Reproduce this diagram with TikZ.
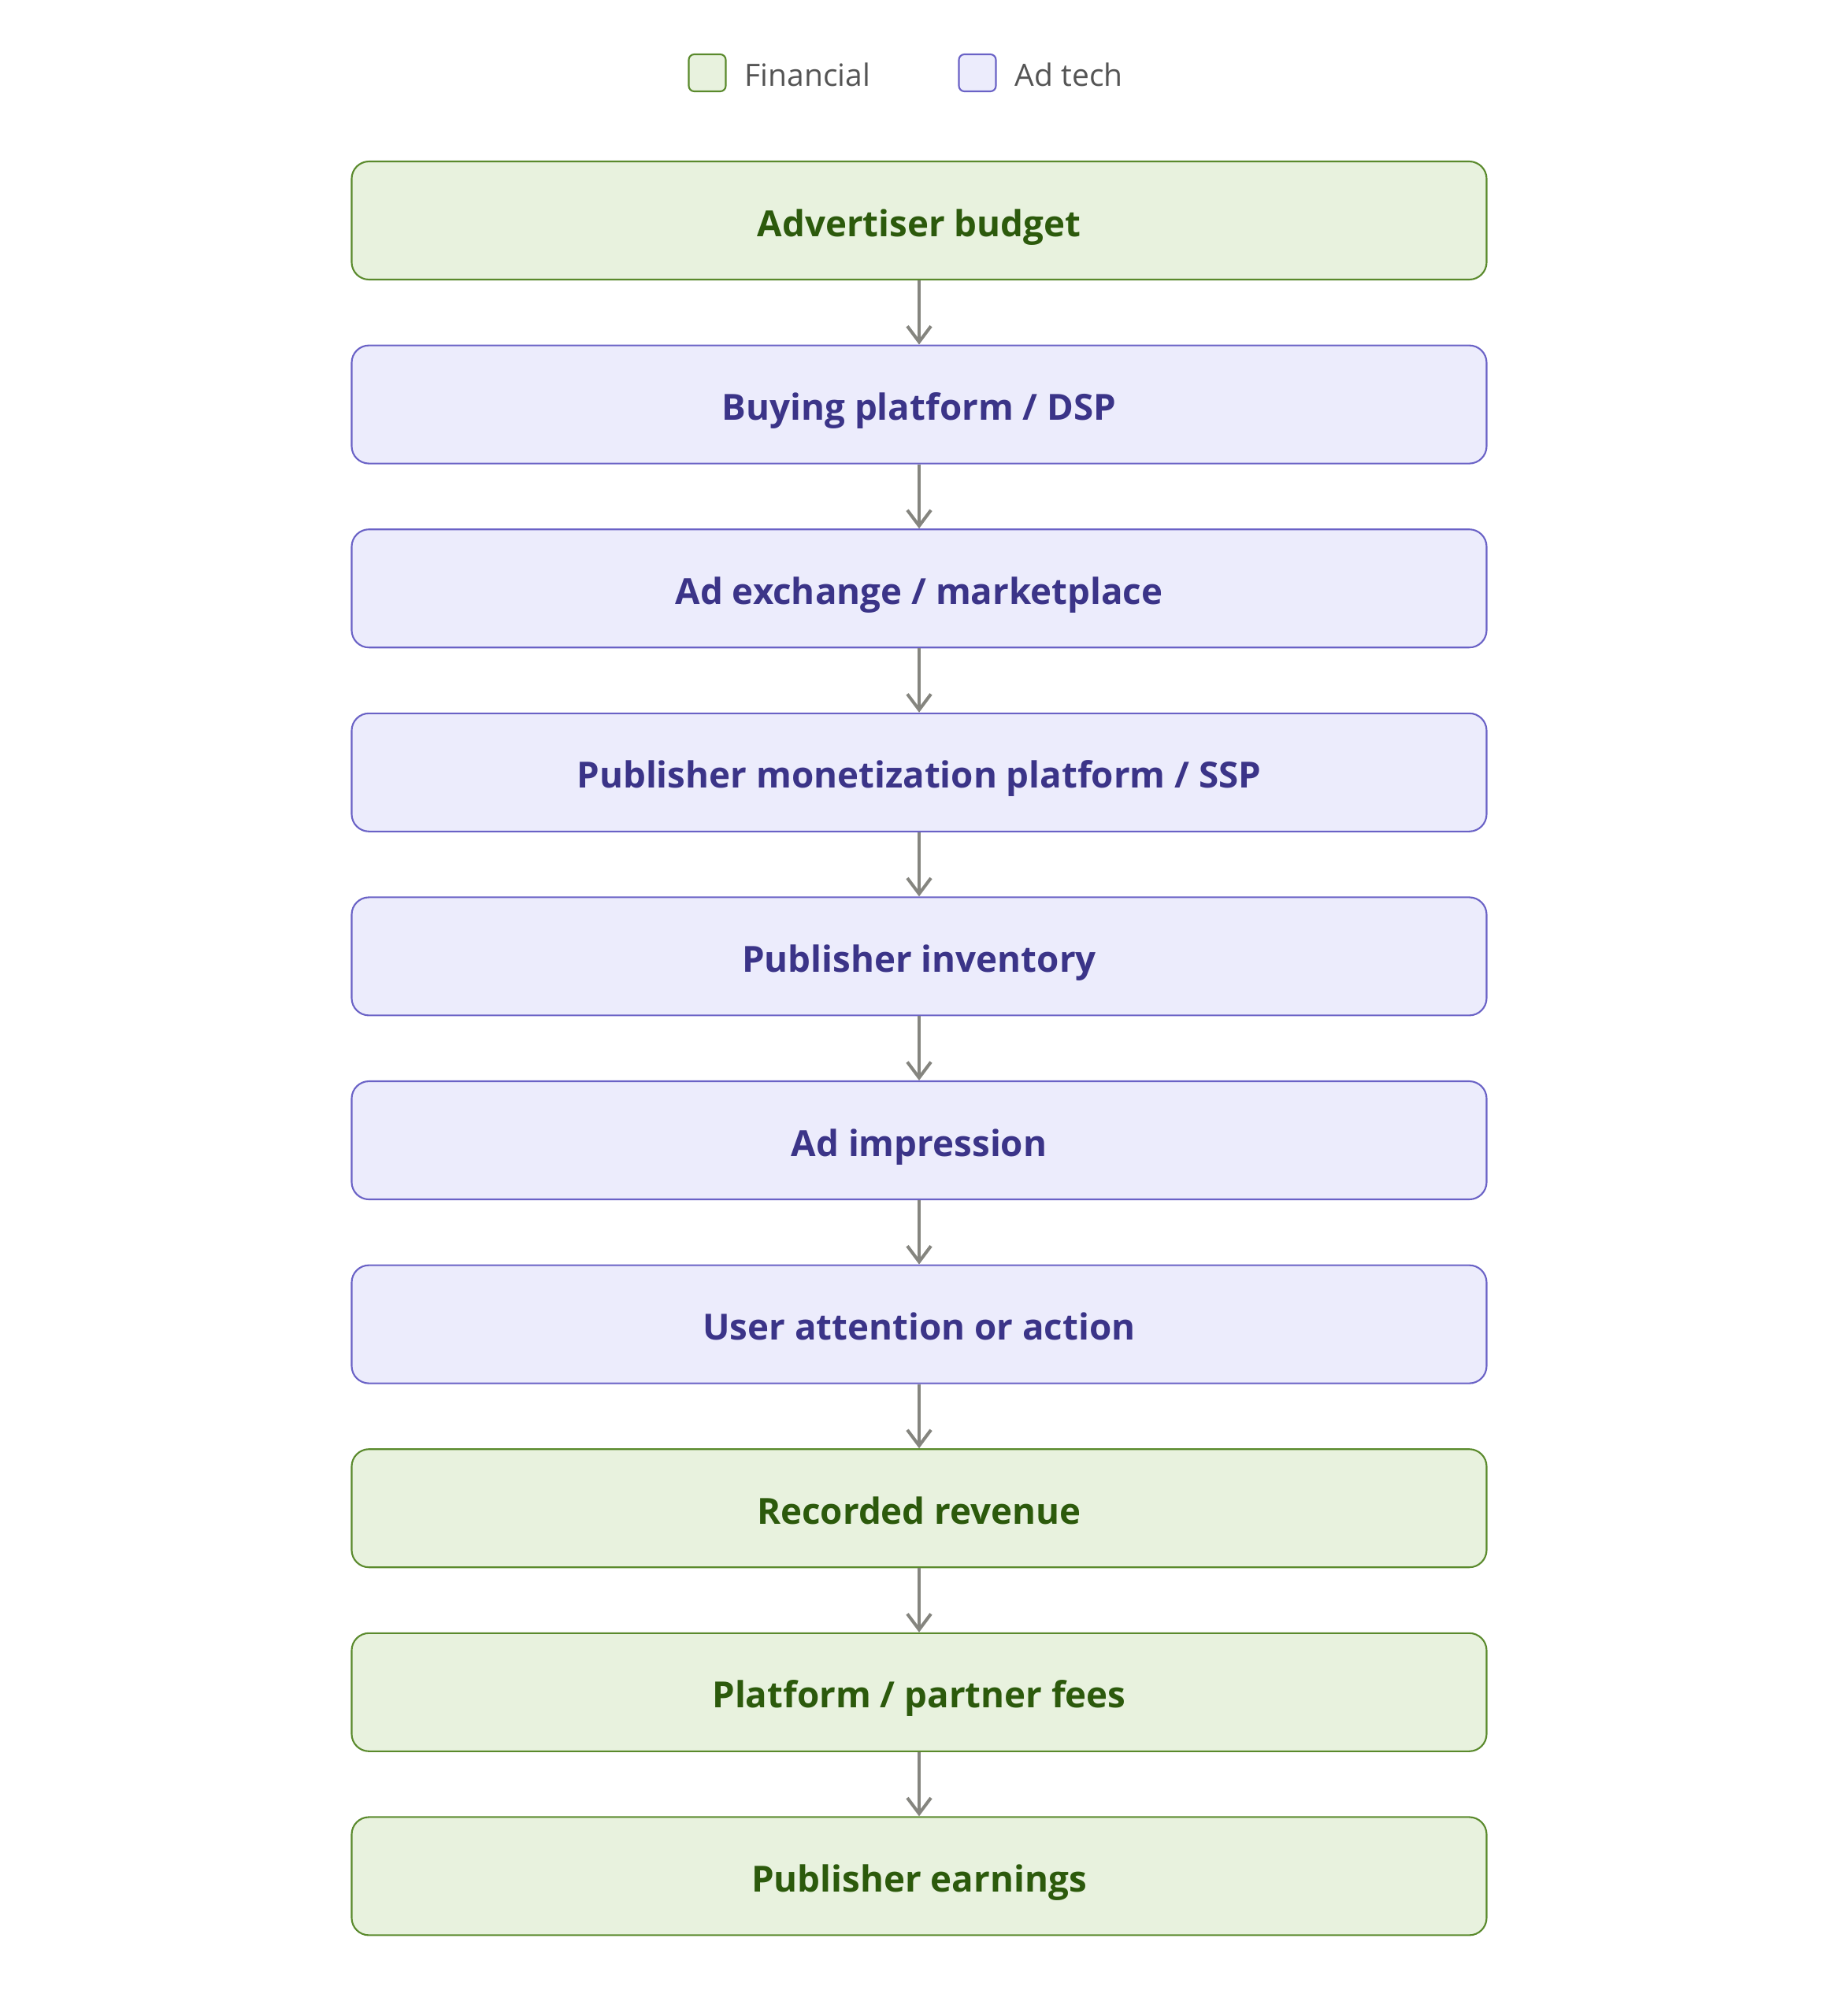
\documentclass[tikz,border=0pt]{standalone}
\usepackage{fontspec}
\setmainfont{Open Sans}
\usepackage{tikz}
\usetikzlibrary{arrows.meta}

\definecolor{finfill}{HTML}{E8F2DE}
\definecolor{finline}{HTML}{5A8A2C}
\definecolor{fintext}{HTML}{2C5A0C}
\definecolor{techfill}{HTML}{ECECFC}
\definecolor{techline}{HTML}{6A62C6}
\definecolor{techtext}{HTML}{3B3488}
\definecolor{arrowgray}{HTML}{85857F}

\begin{document}
\begin{tikzpicture}[node distance=2.336cm,
        fin/.style = {draw=finline, fill=finfill, text=fintext, line width=0.6pt, rounded corners=0.22cm,
                minimum width=14.41cm, minimum height=1.5cm, text height=0.5cm, text depth=0.1cm,
                font=\fontsize{13}{15}\selectfont\bfseries},
        tech/.style = {fin, draw=techline, fill=techfill, text=techtext},
        key/.style = {draw, line width=0.6pt, rounded corners=0.07cm, minimum size=0.47cm, inner sep=0pt},
        keytext/.style = {anchor=base west, inner sep=0pt, text=black!67, font=\fontsize{11.1}{13}\selectfont},
        flow/.style = {draw=arrowgray, line width=1.15pt, -{Straight Barb[length=0.2cm,width=0.3cm,line width=1.15pt]}}]
                \useasboundingbox (0,0) rectangle (23.21,-25.6);
                % legend
                \node[key, draw=finline, fill=finfill] (k1) at (8.98,-0.925) {};
                \node[keytext] (t1) at (9.45,-1.09) {Financial};
                \node[key, draw=techline, fill=techfill] (k2) at (12.41,-0.925) {};
                \node[keytext] (t2) at (12.88,-1.09) {Ad tech};
                % flow
                \node[fin] (1) at (11.67,-2.80) {Advertiser budget};
                \node[tech] (2) [below of=1] {Buying platform / DSP};
                \node[tech] (3) [below of=2] {Ad exchange / marketplace};
                \node[tech] (4) [below of=3] {Publisher monetization platform / SSP};
                \node[tech] (5) [below of=4] {Publisher inventory};
                \node[tech] (6) [below of=5] {Ad impression};
                \node[tech] (7) [below of=6] {User attention or action};
                \node[fin] (8) [below of=7] {Recorded revenue};
                \node[fin] (9) [below of=8] {Platform / partner fees};
                \node[fin] (10) [below of=9] {Publisher earnings};
                \draw[flow] (1) -- (2);
                \draw[flow] (2) -- (3);
                \draw[flow] (3) -- (4);
                \draw[flow] (4) -- (5);
                \draw[flow] (5) -- (6);
                \draw[flow] (6) -- (7);
                \draw[flow] (7) -- (8);
                \draw[flow] (8) -- (9);
                \draw[flow] (9) -- (10);
            \end{tikzpicture}
\end{document}
